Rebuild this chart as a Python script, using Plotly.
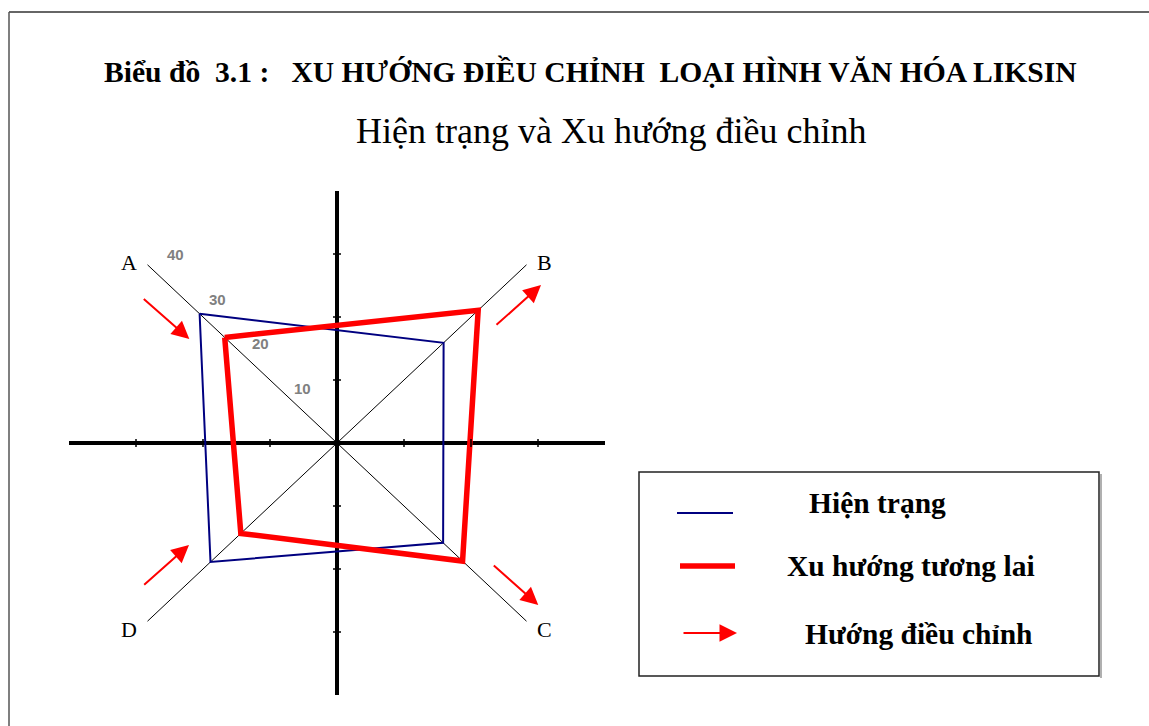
import math
import plotly.graph_objects as go

# ---------------- data ----------------
categories = ["A", "B", "C", "D"]
category_angles = [135, 45, -45, -135]          # direction of each diagonal
hien_trang = [29.0, 22.5, 22.4, 26.7]           # current state
xu_huong = [23.7, 29.8, 26.5, 20.3]             # future trend
scale_ticks = [10, 20, 30, 40]
axis_max = 40
series_names = ["Hiện trạng", "Xu hướng tương lai"]
arrow_name = "Hướng điều chỉnh"
title_text = "Biểu đồ\u00a0\u00a03.1 :\u00a0\u00a0\u00a0XU HƯỚNG ĐIỀU CHỈNH\u00a0\u00a0LOẠI HÌNH VĂN HÓA LIKSIN"
subtitle_text = "Hiện trạng và Xu hướng điều chỉnh"

# ---------------- geometry ----------------
W, H = 1149, 726
CX, CY = 337, 443          # pixel position of the origin
PX_X, PX_Y = 67, 63        # pixels per unit (10 points) on x / y

def px(x):
    return x / W

def py(y):
    return 1 - y / H

def polar(v, ang):
    r = v / 10.0
    a = math.radians(ang)
    return r * math.cos(a), r * math.sin(a)

def polygon(vals):
    pts = [polar(v, a) for v, a in zip(vals, category_angles)]
    pts.append(pts[0])
    return [p[0] for p in pts], [p[1] for p in pts]

fig = go.Figure()

# diagonals
for ang in (135, 45):
    x0, y0 = polar(axis_max, ang)
    fig.add_trace(go.Scatter(x=[x0, -x0], y=[y0, -y0], mode="lines",
                             line=dict(color="black", width=1), hoverinfo="skip",
                             showlegend=False))

# main cross
ext = axis_max / 10.0
fig.add_trace(go.Scatter(x=[-ext, ext], y=[0, 0], mode="lines",
                         line=dict(color="black", width=4), hoverinfo="skip", showlegend=False))
fig.add_trace(go.Scatter(x=[0, 0], y=[-ext, ext], mode="lines",
                         line=dict(color="black", width=4), hoverinfo="skip", showlegend=False))

shapes = []
for k in range(-int(ext) + 1, int(ext)):
    if k == 0:
        continue
    shapes.append(dict(type="line", xref="x", yref="y", x0=k, x1=k,
                       ysizemode="pixel", yanchor=0, y0=-4, y1=4,
                       line=dict(color="black", width=1.5)))
    shapes.append(dict(type="line", xref="x", yref="y", y0=k, y1=k,
                       xsizemode="pixel", xanchor=0, x0=-4, x1=4,
                       line=dict(color="black", width=1.5)))

# polygons
hx, hy = polygon(hien_trang)
fig.add_trace(go.Scatter(x=hx, y=hy, mode="lines", name=series_names[0],
                         line=dict(color="#000080", width=2), showlegend=False))
fx, fy = polygon(xu_huong)
fig.add_trace(go.Scatter(x=fx, y=fy, mode="lines", name=series_names[1],
                         line=dict(color="#FF0000", width=5.5), showlegend=False))

annotations = []

# scale labels on diagonal A
for v in scale_ticks:
    x, y = polar(v, 135)
    annotations.append(dict(x=x, y=y, xref="x", yref="y", text="<b>%d</b>" % v,
                            showarrow=False, xshift=8 + 0.5 * v, yshift=10,
                            xanchor="center", yanchor="middle",
                            font=dict(family="Liberation Sans, Arial", size=15, color="#808080")))

# category labels
for cat, ang in zip(categories, category_angles):
    x, y = polar(axis_max, ang)
    annotations.append(dict(x=x, y=y, xref="x", yref="y", text=cat, showarrow=False,
                            xanchor="center", yanchor="middle",
                            xshift=17.5 if x > 0 else -18.5, yshift=2 if y > 0 else -8,
                            font=dict(family="Liberation Serif, Times New Roman", size=22, color="black")))

# adjustment arrows (tail -> head), in axis units
arrows = [
    ((-2.906, 2.306), (-2.204, 1.651)),
    ((2.358, 1.854), (3.045, 2.508)),
    ((2.318, -1.925), (3.004, -2.571)),
    ((-2.900, -2.270), (-2.209, -1.619)),
]
for (tx, ty), (hx_, hy_) in arrows:
    annotations.append(dict(x=hx_, y=hy_, ax=tx, ay=ty, xref="x", yref="y",
                            axref="x", ayref="y", showarrow=True, arrowhead=2,
                            arrowsize=1.75, arrowwidth=2, arrowcolor="#FF0000",
                            text="", standoff=0))

# titles
annotations.append(dict(x=px(590.5), y=py(71), xref="paper", yref="paper",
                        xanchor="center", yanchor="middle",
                        text="<b>" + title_text + "</b>", showarrow=False,
                        font=dict(family="Liberation Serif, Times New Roman", size=29.6, color="black")))
annotations.append(dict(x=px(611), y=py(131), xref="paper", yref="paper",
                        xanchor="center", yanchor="middle",
                        text=subtitle_text, showarrow=False,
                        font=dict(family="Liberation Serif, Times New Roman", size=36, color="black")))

# legend box
shapes.append(dict(type="line", xref="paper", yref="paper", x0=px(1101), x1=px(1101),
                   y0=py(474), y1=py(678), line=dict(color="#b0b0b0", width=2)))
shapes.append(dict(type="rect", xref="paper", yref="paper", x0=px(639), x1=px(1099),
                   y0=py(472), y1=py(676), line=dict(color="#222222", width=1.5),
                   fillcolor="rgba(0,0,0,0)"))
shapes.append(dict(type="line", xref="paper", yref="paper", x0=px(677), x1=px(733),
                   y0=py(513), y1=py(513), line=dict(color="#000080", width=2)))
shapes.append(dict(type="line", xref="paper", yref="paper", x0=px(680), x1=px(735),
                   y0=py(566), y1=py(566), line=dict(color="#FF0000", width=5.5)))
annotations.append(dict(x=px(737), y=py(633), xref="paper", yref="paper", ax=-55, ay=0,
                        showarrow=True, arrowhead=2, arrowsize=1.75, arrowwidth=2,
                        arrowcolor="#FF0000", text="", standoff=0))
legend_font = dict(family="Liberation Serif, Times New Roman", size=29.5, color="black")
for label, cxp, cyp in [(series_names[0], 877, 503), (series_names[1], 911, 566),
                        (arrow_name, 918.5, 634)]:
    annotations.append(dict(x=px(cxp), y=py(cyp), xref="paper", yref="paper",
                            xanchor="center", yanchor="middle",
                            text="<b>" + label + "</b>", showarrow=False, font=legend_font))

# outer frame (top and left edges)
shapes.append(dict(type="line", xref="paper", yref="paper", x0=px(9), x1=1,
                   y0=py(12), y1=py(12), line=dict(color="#333333", width=1.5)))
shapes.append(dict(type="line", xref="paper", yref="paper", x0=px(9), x1=px(9),
                   y0=py(12), y1=0, line=dict(color="#555555", width=1.5)))

fig.update_layout(
    width=W, height=H,
    margin=dict(l=0, r=0, t=0, b=0),
    paper_bgcolor="white", plot_bgcolor="white",
    xaxis=dict(range=[-CX / PX_X, (W - CX) / PX_X], visible=False, domain=[0, 1],
               fixedrange=True),
    yaxis=dict(range=[-(H - CY) / PX_Y, CY / PX_Y], visible=False, domain=[0, 1],
               fixedrange=True),
    shapes=shapes,
    annotations=annotations,
    showlegend=False,
)

fig.write_html("out.html", config={"displayModeBar": False},
               post_script="document.body.style.margin='0';")
